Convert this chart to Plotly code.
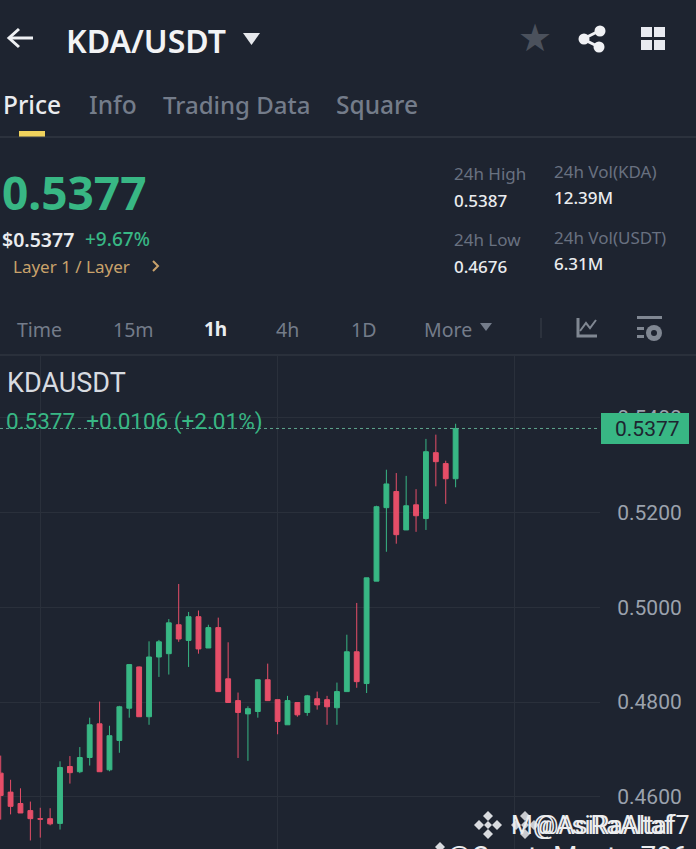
import plotly.graph_objects as go

W, H = 696, 849
BG = "#1E2430"
GREEN = "#38B784"
RED = "#E64E68"
GRID = "#2A303B"
GRAY = "#747C8A"
SANS = "Noto Sans"

# candles (1h)
opens = [0.4650, 0.4610, 0.4586, 0.4571, 0.4554, 0.4554, 0.4544, 0.4664, 0.4653, 0.4683,
         0.4754, 0.4657, 0.4719, 0.4787, 0.4874, 0.4769, 0.4895, 0.4902, 0.4963, 0.4930,
         0.4980, 0.4914, 0.4957, 0.4849, 0.4803, 0.4775, 0.4780, 0.4847, 0.4805, 0.4752,
         0.4799, 0.4778, 0.4807, 0.4805, 0.4788, 0.4822, 0.4906, 0.4839, 0.5055, 0.5210,
         0.5244, 0.5163, 0.5216, 0.5187, 0.5326, 0.5303, 0.5271]
highs = [0.4687, 0.4636, 0.4618, 0.4590, 0.4577, 0.4576, 0.4675, 0.4686, 0.4705, 0.4767,
         0.4801, 0.4750, 0.4792, 0.4879, 0.4875, 0.4928, 0.4931, 0.4975, 0.5049, 0.4990,
         0.4993, 0.4963, 0.4978, 0.4926, 0.4820, 0.4791, 0.4848, 0.4881, 0.4805, 0.4813,
         0.4799, 0.4815, 0.4822, 0.4813, 0.4841, 0.4942, 0.5009, 0.5062, 0.5214, 0.5290,
         0.5283, 0.5277, 0.5249, 0.5355, 0.5364, 0.5309, 0.5387]
lows = [0.4552, 0.4563, 0.4566, 0.4508, 0.4514, 0.4540, 0.4531, 0.4628, 0.4650, 0.4666,
        0.4653, 0.4654, 0.4693, 0.4767, 0.4769, 0.4752, 0.4853, 0.4858, 0.4927, 0.4874,
        0.4902, 0.4914, 0.4822, 0.4799, 0.4682, 0.4676, 0.4767, 0.4803, 0.4732, 0.4752,
        0.4769, 0.4771, 0.4784, 0.4752, 0.4752, 0.4822, 0.4830, 0.4819, 0.5055, 0.5117,
        0.5134, 0.5163, 0.5159, 0.5163, 0.5255, 0.5218, 0.5253]
closes = [0.4603, 0.4580, 0.4566, 0.4554, 0.4553, 0.4543, 0.4662, 0.4651, 0.4683, 0.4752,
          0.4653, 0.4729, 0.4790, 0.4879, 0.4769, 0.4895, 0.4927, 0.4967, 0.4933, 0.4980,
          0.4912, 0.4957, 0.4822, 0.4799, 0.4778, 0.4786, 0.4847, 0.4803, 0.4759, 0.4803,
          0.4773, 0.4813, 0.4794, 0.4790, 0.4822, 0.4906, 0.4843, 0.5062, 0.5212, 0.5260,
          0.5153, 0.5214, 0.5193, 0.5328, 0.5307, 0.5271, 0.5377]
price_ticks = [0.46, 0.48, 0.50, 0.52, 0.54]
time_ticks = [4, 28, 52]
periods = ["Time", "15m", "1h", "4h", "1D", "More"]
period_x = [15, 111, 202, 274, 349, 422]


# pixel position in the window -> paper fraction
def px(x):
    return x / W


def py(y):
    return 1 - y / H


def label(text, x, y, size, color, weight=400, family=SANS, anchor="left", valign="middle"):
    fig.add_annotation(
        text=text, x=px(x), y=py(y), xref="paper", yref="paper",
        xanchor=anchor, yanchor=valign, showarrow=False,
        font=dict(size=size, color=color, family=family, weight=weight),
    )


def path(points, color, fill=True, width=2):
    d = "M " + " L ".join("{:.5f} {:.5f}".format(px(a), py(b)) for a, b in points)
    fig.add_shape(
        type="path", path=d + (" Z" if fill else ""), xref="paper", yref="paper",
        fillcolor=color if fill else "rgba(0,0,0,0)",
        line=dict(color=color, width=0 if fill else width),
    )


def rect(x0, y0, x1, y1, color):
    fig.add_shape(type="rect", xref="paper", yref="paper", x0=px(x0), x1=px(x1),
                  y0=py(y0), y1=py(y1), fillcolor=color, line=dict(width=0))


def dot(x, y, r, color):
    fig.add_shape(type="circle", xref="paper", yref="paper", x0=px(x - r), x1=px(x + r),
                  y0=py(y + r), y1=py(y - r), fillcolor=color, line=dict(width=0))


def diamond(x, y, r, color):
    path([(x - r, y), (x, y - r), (x + r, y), (x, y + r)], color)


def logo(x, y, color):
    # exchange mark of the watermark: a centre diamond with four around it
    diamond(x, y, 4, color)
    for dx, dy in [(-9, 0), (9, 0), (0, -9), (0, 9)]:
        diamond(x + dx, y + dy, 5, color)


fig = go.Figure(go.Candlestick(
    x=list(range(len(opens))), open=opens, high=highs, low=lows, close=closes,
    increasing=dict(line=dict(color=GREEN, width=1), fillcolor=GREEN),
    decreasing=dict(line=dict(color=RED, width=1), fillcolor=RED),
    whiskerwidth=0, hoverinfo="skip",
))

fig.update_layout(
    width=W, height=H, autosize=False,
    margin=dict(l=0, r=0, t=0, b=0),
    paper_bgcolor=BG, plot_bgcolor=BG,
    showlegend=False, boxgap=0.3,
    xaxis=dict(
        domain=[0, 600 / W], range=[-0.07, 60.6], rangeslider=dict(visible=False),
        tickmode="array", tickvals=time_ticks, showticklabels=False, ticks="",
        showgrid=True, gridcolor=GRID, gridwidth=1, zeroline=False, showline=False,
    ),
    yaxis=dict(
        domain=[0, 1 - 355 / H], range=[0.4490, 0.5532], side="right",
        tickmode="array", tickvals=price_ticks, tickformat=".4f",
        ticks="outside", ticklen=12, tickcolor="rgba(0,0,0,0)",
        tickfont=dict(size=21, color="#9BA2AD", family="Roboto"),
        showgrid=True, gridcolor=GRID, gridwidth=1, zeroline=False, showline=False,
    ),
)

# last price line and tag
fig.add_shape(type="line", xref="paper", yref="y", x0=0, x1=600 / W,
              y0=closes[-1], y1=closes[-1], line=dict(color="#5FA48D", width=1, dash="dot"))
rect(601, 413, 689, 444, GREEN)
label("{:.4f}".format(closes[-1]), 682, 429, 21, "#1E2430", family="Roboto", anchor="right")

# top bar
path([(9, 38), (33, 38)], "#EEF0F3", fill=False, width=3)
path([(19, 29), (9, 38), (19, 47)], "#EEF0F3", fill=False, width=3)
label("KDA/USDT", 64, 40, 32, "#F2F3F5", 600)
path([(243, 33), (260, 33), (251.5, 45)], "#E6E8EC")
label("★", 535, 38, 38, "#4B515C", family="DejaVu Sans", anchor="center")
path([(599, 31), (583, 39), (599, 47)], "#F0F1F4", fill=False, width=3)
dot(600, 31, 5.5, "#F0F1F4")
dot(584, 39, 5.5, "#F0F1F4")
dot(599, 47, 5.5, "#F0F1F4")
rect(641, 27, 652, 37, "#E8EAF0")
rect(654, 27, 665, 37, "#E8EAF0")
rect(641, 40, 652, 50, "#E8EAF0")
rect(654, 40, 665, 50, "#E8EAF0")

# tabs
label("Price", 1, 105, 24.5, "#EAECEF", 500)
label("Info", 87, 105, 24.5, GRAY, 500)
label("Trading Data", 161, 105, 24, GRAY, 500)
label("Square", 334, 105, 24.5, GRAY, 500)
rect(19, 131, 45, 137, "#F0D25C")
fig.add_shape(type="line", xref="paper", yref="paper", x0=0, x1=1, y0=py(137), y1=py(137),
              line=dict(color="#3A404B", width=1))

# price block
label("0.5377", 0, 192, 46, GREEN, 700)
label("$0.5377", 0, 239, 19.5, "#EAECEF", 600)
label("+9.67%", 83, 239, 19, GREEN, 500)
label("Layer 1 / Layer", 11, 266, 17, "#C9A26B")
path([(153, 261), (158, 266), (153, 271)], "#C9A26B", fill=False, width=2)

label("24h High", 452, 173, 17, "#697180")
label("0.5387", 452, 200, 17, "#EAECEF", 500)
label("24h Low", 452, 239, 17, "#697180")
label("0.4676", 452, 266, 17, "#EAECEF", 500)
label("24h Vol(KDA)", 552, 171, 17, "#697180")
label("12.39M", 552, 197, 17, "#EAECEF", 500)
label("24h Vol(USDT)", 552, 237, 17, "#697180")
label("6.31M", 552, 263, 17, "#EAECEF", 500)

# period row
for name, x in zip(periods, period_x):
    if name == "1h":
        label(name, x, 329, 19, "#EAECEF", 700)
    else:
        label(name, x, 329, 19.5, GRAY)
path([(480, 323), (492, 323), (486, 331)], GRAY)
fig.add_shape(type="line", xref="paper", yref="paper", x0=px(541), x1=px(541), y0=py(318), y1=py(338),
              line=dict(color="#3A404B", width=1))
path([(578, 318), (578, 336), (597, 336)], "#808792", fill=False, width=3)
path([(580, 331), (586, 323), (590, 328), (596, 320)], "#808792", fill=False, width=2)
rect(637, 316, 662, 319, "#808792")
rect(637, 327, 644, 330, "#808792")
rect(637, 335, 644, 338, "#808792")
dot(654, 333, 8, "#808792")
dot(654, 333, 3, BG)
fig.add_shape(type="line", xref="paper", yref="paper", x0=0, x1=1, y0=py(355), y1=py(355),
              line=dict(color="#2A303B", width=2))

# chart legend
label("KDAUSDT", 5, 383, 27, "#D8DBE0", family="Roboto")
label("0.5377  +0.0106 (+2.01%)", 4, 421, 22.5, GREEN, family="Roboto")

# watermarks
logo(488, 825, "#D9DBDF")
logo(525, 825, "#C9CBD0")
label("@AsiRaAltaf7", 692, 825, 25, "#ECEDEF", family="Roboto", anchor="right")
label("M@AsiRaAltaf", 675, 825, 25, "#ECEDEF", family="Roboto", anchor="right")
logo(440, 856, "#D9DBDF")
label("@CryptoMaster786", 690, 838, 28, "#ECEDEF", family="Roboto", anchor="right", valign="top")

fig.write_html("out.html", config={"displayModeBar": False},
               post_script="document.body.style.margin='0';document.body.style.background='#1E2430';")
